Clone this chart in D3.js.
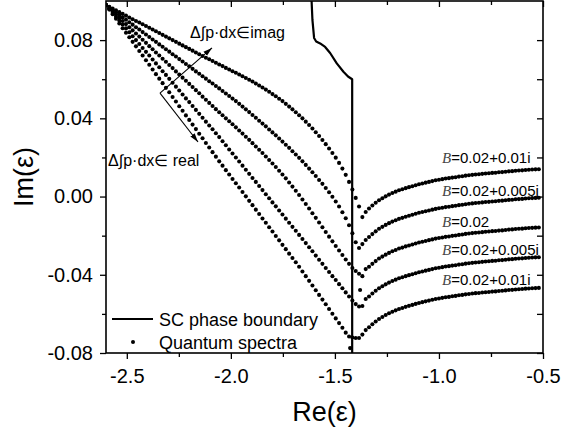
<!DOCTYPE html>
<html>
<head>
<meta charset="utf-8">
<script src="https://cdn.jsdelivr.net/npm/d3@7"></script>
<style>
  html, body { margin: 0; padding: 0; background: #fff; }
  svg { display: block; font-family: "Liberation Sans", Arial, sans-serif; }
</style>
</head>
<body>
<svg id="chart" width="564" height="433"></svg>
<script>
// Re(ε) sampling shared by all spectra
const reGrid = [
  -2.6,-2.584,-2.568,-2.552,-2.536,-2.52,-2.504,-2.488,-2.472,-2.456,
  -2.44,-2.424,-2.408,-2.392,-2.376,-2.36,-2.344,-2.328,-2.312,-2.296,
  -2.28,-2.264,-2.248,-2.232,-2.216,-2.2,-2.184,-2.168,-2.152,-2.136,
  -2.12,-2.104,-2.088,-2.072,-2.056,-2.04,-2.024,-2.008,-1.992,-1.976,
  -1.96,-1.944,-1.928,-1.912,-1.896,-1.88,-1.864,-1.848,-1.832,-1.816,
  -1.8,-1.784,-1.768,-1.752,-1.736,-1.72,-1.704,-1.688,-1.672,-1.656,
  -1.64,-1.624,-1.608,-1.592,-1.576,-1.56,-1.544,-1.528,-1.512,-1.496,
  -1.48,-1.464,-1.448,-1.432,-1.416,-1.4,-1.384,-1.368,-1.352,-1.336,
  -1.32,-1.304,-1.288,-1.272,-1.256,-1.24,-1.224,-1.208,-1.192,-1.176,
  -1.16,-1.144,-1.128,-1.112,-1.096,-1.08,-1.064,-1.048,-1.032,-1.016,
  -1.0,-0.984,-0.968,-0.952,-0.936,-0.92,-0.904,-0.888,-0.872,-0.856,
  -0.84,-0.824,-0.808,-0.792,-0.776,-0.76,-0.744,-0.728,-0.712,-0.696,
  -0.68,-0.664,-0.648,-0.632,-0.616,-0.6,-0.584,-0.568,-0.552,-0.536,
  -0.52
];

// Im(ε) of each quantum spectrum, one value per reGrid entry
const imSpectrum1 = [
  0.0979,0.0970,0.0961,0.0952,0.0943,0.0934,0.0925,0.0916,0.0907,0.0898,
  0.0890,0.0881,0.0872,0.0863,0.0854,0.0845,0.0836,0.0827,0.0818,0.0809,
  0.0800,0.0791,0.0782,0.0773,0.0764,0.0755,0.0746,0.0737,0.0728,0.0719,
  0.0710,0.0702,0.0693,0.0684,0.0675,0.0667,0.0658,0.0650,0.0641,0.0633,
  0.0624,0.0615,0.0606,0.0597,0.0588,0.0578,0.0568,0.0558,0.0547,0.0536,
  0.0524,0.0513,0.0500,0.0488,0.0474,0.0460,0.0446,0.0431,0.0416,0.0400,
  0.0383,0.0366,0.0348,0.0329,0.0310,0.0289,0.0268,0.0246,0.0223,0.0199,
  0.0172,0.0143,0.0111,0.0075,0.0036,-0.0007,-0.0051,-0.0105,-0.0079,-0.0061,
  -0.0046,-0.0032,-0.0019,-0.0009,0.0001,0.0010,0.0018,0.0025,0.0032,0.0037,
  0.0043,0.0048,0.0053,0.0058,0.0063,0.0067,0.0071,0.0075,0.0079,0.0083,
  0.0086,0.0089,0.0092,0.0094,0.0097,0.0099,0.0102,0.0104,0.0107,0.0109,
  0.0111,0.0113,0.0114,0.0116,0.0118,0.0119,0.0121,0.0122,0.0124,0.0125,
  0.0127,0.0129,0.0130,0.0132,0.0133,0.0134,0.0136,0.0137,0.0138,0.0139,
  0.0140
];
const imSpectrum2 = [
  0.0979,0.0966,0.0954,0.0941,0.0929,0.0916,0.0904,0.0891,0.0879,0.0866,
  0.0854,0.0841,0.0829,0.0816,0.0803,0.0791,0.0778,0.0766,0.0753,0.0741,
  0.0728,0.0716,0.0703,0.0691,0.0678,0.0666,0.0653,0.0640,0.0628,0.0615,
  0.0603,0.0590,0.0578,0.0565,0.0553,0.0540,0.0527,0.0514,0.0501,0.0488,
  0.0474,0.0460,0.0446,0.0432,0.0417,0.0403,0.0388,0.0373,0.0359,0.0343,
  0.0328,0.0313,0.0297,0.0281,0.0265,0.0249,0.0232,0.0215,0.0198,0.0180,
  0.0162,0.0143,0.0124,0.0105,0.0085,0.0065,0.0044,0.0022,-0.0001,-0.0025,
  -0.0051,-0.0080,-0.0111,-0.0147,-0.0188,-0.0234,-0.0263,-0.0243,-0.0222,-0.0207,
  -0.0192,-0.0178,-0.0165,-0.0155,-0.0145,-0.0136,-0.0128,-0.0121,-0.0114,-0.0109,
  -0.0103,-0.0098,-0.0093,-0.0088,-0.0083,-0.0079,-0.0075,-0.0071,-0.0067,-0.0063,
  -0.0060,-0.0057,-0.0054,-0.0052,-0.0049,-0.0047,-0.0044,-0.0042,-0.0039,-0.0037,
  -0.0035,-0.0033,-0.0032,-0.0030,-0.0028,-0.0027,-0.0025,-0.0024,-0.0022,-0.0021,
  -0.0019,-0.0017,-0.0016,-0.0014,-0.0013,-0.0012,-0.0010,-0.0009,-0.0008,-0.0007,
  -0.0006
];
const imSpectrum3 = [
  0.0979,0.0963,0.0947,0.0931,0.0915,0.0898,0.0882,0.0866,0.0850,0.0834,
  0.0818,0.0802,0.0786,0.0769,0.0753,0.0737,0.0721,0.0705,0.0689,0.0673,
  0.0657,0.0640,0.0624,0.0608,0.0592,0.0576,0.0560,0.0544,0.0528,0.0511,
  0.0495,0.0479,0.0463,0.0447,0.0431,0.0416,0.0400,0.0385,0.0370,0.0354,
  0.0338,0.0322,0.0306,0.0290,0.0273,0.0256,0.0239,0.0223,0.0205,0.0187,
  0.0169,0.0151,0.0132,0.0113,0.0093,0.0072,0.0051,0.0030,0.0008,-0.0015,
  -0.0038,-0.0061,-0.0085,-0.0109,-0.0133,-0.0157,-0.0181,-0.0205,-0.0229,-0.0253,
  -0.0276,-0.0299,-0.0322,-0.0344,-0.0365,-0.0381,-0.0395,-0.0407,-0.0371,-0.0359,
  -0.0344,-0.0330,-0.0317,-0.0307,-0.0297,-0.0288,-0.0280,-0.0273,-0.0266,-0.0261,
  -0.0255,-0.0250,-0.0245,-0.0240,-0.0235,-0.0231,-0.0227,-0.0223,-0.0219,-0.0215,
  -0.0212,-0.0209,-0.0206,-0.0204,-0.0201,-0.0199,-0.0196,-0.0194,-0.0191,-0.0189,
  -0.0187,-0.0185,-0.0184,-0.0182,-0.0180,-0.0179,-0.0177,-0.0176,-0.0174,-0.0173,
  -0.0171,-0.0169,-0.0168,-0.0166,-0.0165,-0.0164,-0.0162,-0.0161,-0.0160,-0.0159,
  -0.0158
];
const imSpectrum4 = [
  0.0979,0.0959,0.0939,0.0919,0.0900,0.0880,0.0860,0.0840,0.0820,0.0800,
  0.0780,0.0760,0.0740,0.0721,0.0701,0.0681,0.0661,0.0641,0.0622,0.0602,
  0.0582,0.0562,0.0542,0.0522,0.0502,0.0483,0.0463,0.0443,0.0423,0.0403,
  0.0383,0.0363,0.0344,0.0324,0.0304,0.0283,0.0262,0.0241,0.0220,0.0200,
  0.0179,0.0158,0.0137,0.0116,0.0095,0.0075,0.0054,0.0033,0.0012,-0.0009,
  -0.0030,-0.0050,-0.0071,-0.0092,-0.0113,-0.0134,-0.0155,-0.0175,-0.0196,-0.0217,
  -0.0238,-0.0259,-0.0280,-0.0302,-0.0323,-0.0344,-0.0365,-0.0386,-0.0407,-0.0427,
  -0.0448,-0.0469,-0.0490,-0.0511,-0.0532,-0.0550,-0.0562,-0.0560,-0.0524,-0.0511,
  -0.0496,-0.0482,-0.0469,-0.0459,-0.0449,-0.0440,-0.0432,-0.0425,-0.0418,-0.0413,
  -0.0407,-0.0402,-0.0397,-0.0392,-0.0387,-0.0383,-0.0379,-0.0375,-0.0371,-0.0367,
  -0.0364,-0.0361,-0.0358,-0.0356,-0.0353,-0.0351,-0.0348,-0.0346,-0.0343,-0.0341,
  -0.0339,-0.0337,-0.0336,-0.0334,-0.0332,-0.0331,-0.0329,-0.0328,-0.0326,-0.0325,
  -0.0323,-0.0321,-0.0320,-0.0318,-0.0317,-0.0316,-0.0314,-0.0313,-0.0312,-0.0311,
  -0.0310
];
const imSpectrum5 = [
  0.0979,0.0956,0.0932,0.0909,0.0885,0.0861,0.0838,0.0815,0.0791,0.0768,
  0.0744,0.0721,0.0697,0.0674,0.0650,0.0626,0.0603,0.0580,0.0556,0.0533,
  0.0509,0.0486,0.0462,0.0439,0.0415,0.0392,0.0368,0.0345,0.0321,0.0298,
  0.0274,0.0251,0.0227,0.0204,0.0180,0.0158,0.0135,0.0113,0.0090,0.0068,
  0.0046,0.0023,0.0001,-0.0022,-0.0044,-0.0067,-0.0089,-0.0112,-0.0134,-0.0157,
  -0.0179,-0.0202,-0.0224,-0.0247,-0.0269,-0.0292,-0.0314,-0.0336,-0.0359,-0.0383,
  -0.0407,-0.0431,-0.0455,-0.0479,-0.0503,-0.0527,-0.0551,-0.0575,-0.0599,-0.0623,
  -0.0647,-0.0671,-0.0696,-0.0716,-0.0721,-0.0723,-0.0723,-0.0706,-0.0683,-0.0668,
  -0.0653,-0.0639,-0.0626,-0.0616,-0.0606,-0.0597,-0.0589,-0.0582,-0.0575,-0.0570,
  -0.0564,-0.0559,-0.0554,-0.0549,-0.0544,-0.0540,-0.0536,-0.0532,-0.0528,-0.0524,
  -0.0521,-0.0518,-0.0515,-0.0513,-0.0510,-0.0508,-0.0505,-0.0503,-0.0500,-0.0498,
  -0.0496,-0.0494,-0.0493,-0.0491,-0.0489,-0.0488,-0.0486,-0.0485,-0.0483,-0.0482,
  -0.0480,-0.0478,-0.0477,-0.0475,-0.0474,-0.0473,-0.0471,-0.0470,-0.0469,-0.0468,
  -0.0467
];
// stray eigenvalues near the boundary [Re, Im]
const strayEigenvalues = [[-1.379, -0.0478], [-1.427, -0.0775]];

// semiclassical phase boundary
const boundaryRe = [-1.612, -1.608, -1.600, -1.590, -1.571, -1.547, -1.523, -1.491, -1.459, -1.437, -1.417, -1.417];
const boundaryIm = [0.1, 0.0903, 0.0811, 0.0793, 0.0783, 0.0765, 0.0734, 0.0681, 0.0638, 0.0614, 0.0600, -0.08];

// parameter labels for the five spectra (top to bottom)
const bValues = ["=0.02+0.01i", "=0.02+0.005j", "=0.02", "=0.02+0.005i", "=0.02+0.01i"];
const bLabelIm = [0.0171, 0.0003, -0.0156, -0.0299, -0.0452];
const bLabelRe = -0.985;

// axis ticks
const xMajor = [-2.5, -2.0, -1.5, -1.0, -0.5];
const xTickLabels = ["-2.5", "-2.0", "-1.5", "-1.0", "-0.5"];
const xMinor = [-2.25, -1.75, -1.25, -0.75];
const yMajor = [-0.08, -0.04, 0.0, 0.04, 0.08];
const yTickLabels = ["-0.08", "-0.04", "0.00", "0.04", "0.08"];
const yMinor = [-0.06, -0.02, 0.02, 0.06];

// annotation arrows (data coordinates)
const arrowBase = [-2.3405, 0.0529];
const arrowImagTip = [-2.0906, 0.0760];
const arrowRealTip = [-2.1579, 0.0279];
const imagText = "Δ∫p·dx∈imag";
const realText = "Δ∫p·dx∈ real";
const imagTextPos = [-2.196, 0.0811];
const realTextPos = [-2.590, 0.0156];

const svg = d3.select("#chart");
const plot = { left: 106, right: 543, top: 1, bottom: 353 };

const x = d3.scaleLinear().domain([-2.6, -0.5]).range([plot.left, plot.right]);
const y = d3.scaleLinear().domain([-0.08, 0.1]).range([plot.bottom, plot.top]);

const defs = svg.append("defs");
defs.append("clipPath").attr("id", "plotClip")
  .append("rect")
  .attr("x", plot.left).attr("y", plot.top)
  .attr("width", plot.right - plot.left).attr("height", plot.bottom - plot.top);
defs.append("marker")
  .attr("id", "arrowHead")
  .attr("viewBox", "0 0 10 10")
  .attr("refX", 10).attr("refY", 5)
  .attr("markerWidth", 9).attr("markerHeight", 9)
  .attr("markerUnits", "userSpaceOnUse")
  .attr("orient", "auto")
  .append("path").attr("d", "M0,2 L10,5 L0,8 Z").attr("fill", "#000");

// axes
function addAxis(axis, tx, ty, fontSize) {
  const g = svg.append("g").attr("transform", `translate(${tx},${ty})`).call(axis);
  g.select(".domain").remove();
  g.attr("font-size", fontSize).attr("font-family", '"Liberation Sans", Arial, sans-serif');
  g.selectAll(".tick line").attr("stroke", "#000").attr("stroke-width", 1.3);
  g.selectAll(".tick text").attr("fill", "#000");
  return g;
}
addAxis(d3.axisBottom(x).tickValues(xMajor).tickFormat((d, i) => xTickLabels[i]).tickSize(6).tickPadding(10), 0, plot.bottom, 20);
addAxis(d3.axisBottom(x).tickValues(xMinor).tickFormat("").tickSize(4), 0, plot.bottom, 20);
addAxis(d3.axisLeft(y).tickValues(yMajor).tickFormat((d, i) => yTickLabels[i]).tickSize(6).tickPadding(7), plot.left, 0, 20);
addAxis(d3.axisLeft(y).tickValues(yMinor).tickFormat("").tickSize(4), plot.left, 0, 20);
// inward ticks on top and right
addAxis(d3.axisBottom(x).tickValues(xMajor).tickFormat("").tickSize(6), 0, plot.top, 20);
addAxis(d3.axisBottom(x).tickValues(xMinor).tickFormat("").tickSize(4), 0, plot.top, 20);
addAxis(d3.axisLeft(y).tickValues(yMajor).tickFormat("").tickSize(6), plot.right, 0, 20);
addAxis(d3.axisLeft(y).tickValues(yMinor).tickFormat("").tickSize(6), plot.right, 0, 20);

// plot frame
svg.append("rect")
  .attr("x", plot.left).attr("y", plot.top)
  .attr("width", plot.right - plot.left).attr("height", plot.bottom - plot.top)
  .attr("fill", "none").attr("stroke", "#000").attr("stroke-width", 1.6);

const inner = svg.append("g").attr("clip-path", "url(#plotClip)");

// phase boundary
const boundary = boundaryRe.map((r, i) => [r, boundaryIm[i]]);
inner.append("path")
  .datum(boundary)
  .attr("d", d3.line().x(d => x(d[0])).y(d => y(d[1])))
  .attr("fill", "none").attr("stroke", "#000").attr("stroke-width", 2.2)
  .attr("stroke-linejoin", "round");

// quantum spectra
const spectra = [imSpectrum1, imSpectrum2, imSpectrum3, imSpectrum4, imSpectrum5];
const dots = [];
spectra.forEach(s => reGrid.forEach((r, i) => dots.push([r, s[i]])));
strayEigenvalues.forEach(p => dots.push(p));
inner.append("g").selectAll("circle")
  .data(dots).join("circle")
  .attr("cx", d => x(d[0])).attr("cy", d => y(d[1]))
  .attr("r", 2.05).attr("fill", "#000");

// B labels
bValues.forEach((v, i) => {
  const t = svg.append("text")
    .attr("x", x(bLabelRe)).attr("y", y(bLabelIm[i]))
    .attr("font-size", 15).attr("fill", "#000");
  t.append("tspan").text("B")
    .attr("font-family", '"Liberation Serif", "Times New Roman", serif')
    .attr("font-style", "italic").attr("fill", "#444");
  t.append("tspan").text(v);
});

// annotation arrows
[arrowImagTip, arrowRealTip].forEach(tip => {
  svg.append("line")
    .attr("x1", x(arrowBase[0])).attr("y1", y(arrowBase[1]))
    .attr("x2", x(tip[0])).attr("y2", y(tip[1]))
    .attr("stroke", "#000").attr("stroke-width", 1.1)
    .attr("marker-end", "url(#arrowHead)");
});
svg.append("text").attr("x", x(imagTextPos[0])).attr("y", y(imagTextPos[1]))
  .attr("font-size", 16).attr("fill", "#000").text(imagText);
svg.append("text").attr("x", x(realTextPos[0])).attr("y", y(realTextPos[1]))
  .attr("font-size", 16).attr("fill", "#000").text(realText);

// legend
svg.append("line").attr("x1", 112).attr("x2", 153).attr("y1", 319).attr("y2", 319)
  .attr("stroke", "#000").attr("stroke-width", 2.2);
svg.append("text").attr("x", 159).attr("y", 325.5).attr("font-size", 18).attr("fill", "#000")
  .text("SC phase boundary");
svg.append("circle").attr("cx", 133).attr("cy", 342).attr("r", 2).attr("fill", "#000");
svg.append("text").attr("x", 159).attr("y", 348.5).attr("font-size", 18).attr("fill", "#000")
  .text("Quantum spectra");

// axis titles
svg.append("text").attr("x", (plot.left + plot.right) / 2).attr("y", 421)
  .attr("text-anchor", "middle").attr("font-size", 27).attr("fill", "#000")
  .text("Re(ε)");
svg.append("text")
  .attr("transform", `translate(33,${(plot.top + plot.bottom) / 2}) rotate(-90)`)
  .attr("text-anchor", "middle").attr("font-size", 27).attr("fill", "#000")
  .text("Im(ε)");
</script>
</body>
</html>
